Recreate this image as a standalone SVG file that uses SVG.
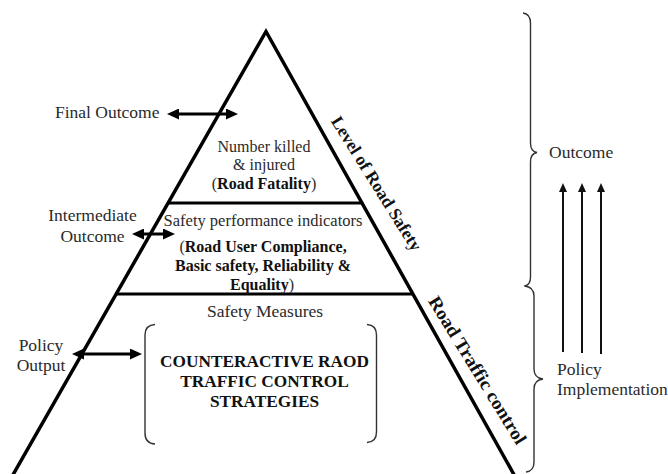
<svg xmlns="http://www.w3.org/2000/svg" width="668" height="474" viewBox="0 0 668 474">
  <defs>
    <style>
      .t { font-family: "Liberation Serif", "Times New Roman", serif; fill: #2a2a2a; }
      .b { font-weight: bold; fill: #111; }
      .c { text-anchor: middle; }
      .edge { fill: none; stroke: #000; stroke-width: 3.5; stroke-linejoin: miter; }
      .tier { fill: none; stroke: #000; stroke-width: 3; }
      .brace { fill: none; stroke: #333; stroke-width: 1.4; }
      .dbl { fill: none; stroke: #000; stroke-width: 3; marker-start: url(#head); marker-end: url(#head); }
      .up { fill: none; stroke: #111; stroke-width: 2; marker-end: url(#smallhead); }
    </style>
    <marker id="head" markerUnits="userSpaceOnUse" markerWidth="12" markerHeight="11" refX="4" refY="5.5" orient="auto-start-reverse">
      <path d="M0,0 L12,5.5 L0,11 z" fill="#000"/>
    </marker>
    <marker id="smallhead" markerUnits="userSpaceOnUse" markerWidth="9" markerHeight="8" refX="4" refY="4" orient="auto">
      <path d="M0,0 L9,4 L0,8 z" fill="#111"/>
    </marker>
  </defs>

  <g id="pyramid">
    <path class="edge" d="M10,480 L266,31.5 L517,480"/>
    <line class="tier" x1="168" y1="203" x2="362" y2="203"/>
    <line class="tier" x1="116" y1="294" x2="413" y2="294"/>
  </g>

  <g id="tier-final">
    <text class="t c" x="264" y="152" font-size="16">Number killed</text>
    <text class="t c" x="264" y="170" font-size="16">&amp; injured</text>
    <text class="t c" x="264" y="188.5" font-size="16">(<tspan class="b">Road Fatality</tspan>)</text>
  </g>

  <g id="tier-intermediate">
    <text class="t c" x="263" y="226" font-size="16.5">Safety performance indicators</text>
    <text class="t c" x="263" y="251.5" font-size="16">(<tspan class="b">Road User Compliance,</tspan></text>
    <text class="t b c" x="263" y="271" font-size="16">Basic safety, Reliability &amp;</text>
    <text class="t c" x="262" y="289.5" font-size="16"><tspan class="b">Equality</tspan>)</text>
  </g>

  <g id="tier-policy">
    <text class="t c" x="265" y="316.5" font-size="17.5">Safety Measures</text>
    <path class="brace" d="M155,324.5 Q145,325 145,335 L145,433 Q145,443.5 155,444"/>
    <path class="brace" d="M367,324.5 Q376.5,325 376.5,335 L376.5,432 Q376.5,442 367,442.5"/>
    <text class="t b c" x="264.5" y="367" font-size="17.3">COUNTERACTIVE RAOD</text>
    <text class="t b c" x="264.5" y="387" font-size="17.3">TRAFFIC CONTROL</text>
    <text class="t b c" x="264.5" y="407" font-size="17.3">STRATEGIES</text>
  </g>

  <g id="label-final-outcome">
    <text class="t" x="55" y="118" font-size="17.5">Final Outcome</text>
  </g>

  <g id="label-intermediate-outcome">
    <text class="t c" x="92.5" y="221" font-size="17.5">Intermediate</text>
    <text class="t c" x="92.5" y="241.5" font-size="17.5">Outcome</text>
  </g>

  <g id="label-policy-output">
    <text class="t c" x="41" y="350.5" font-size="17.5">Policy</text>
    <text class="t c" x="41" y="370.5" font-size="17.5">Output</text>
  </g>

  <g id="side-labels">
    <text class="t b" font-size="17.5" textLength="155" lengthAdjust="spacingAndGlyphs" transform="translate(330.5,121) rotate(58)">Level of Road Safety</text>
    <text class="t b" font-size="18.5" textLength="170" lengthAdjust="spacingAndGlyphs" transform="translate(427.7,301) rotate(58.4)">Road Traffic control</text>
  </g>

  <g id="braces">
    <path class="brace" d="M523,13 Q530.5,14 530.5,23 L530.5,143 Q530.5,151.5 537,152.5 Q530.5,153.5 530.5,162 L530.5,277 Q530.5,285 524.5,286"/>
    <path class="brace" d="M524.5,286 Q534,287 534,296 L534,369 Q534,378 543,379 Q534,380 534,389 L534,462 Q534,471 526,472"/>
  </g>

  <g id="label-outcome">
    <text class="t" x="549" y="158" font-size="17.5">Outcome</text>
  </g>

  <g id="label-policy-implementation">
    <text class="t" x="557" y="375" font-size="17.5">Policy</text>
    <text class="t" x="557" y="395" font-size="17.5">Implementation</text>
  </g>

  <g id="connectors">
    <line class="dbl" x1="175" y1="114" x2="230" y2="114"/>
    <line class="dbl" x1="140" y1="234" x2="167" y2="234"/>
    <line class="dbl" x1="80" y1="354" x2="134" y2="354"/>
    <line class="up" x1="563" y1="352" x2="563" y2="188"/>
    <line class="up" x1="582" y1="353" x2="582" y2="188"/>
    <line class="up" x1="601" y1="354" x2="601" y2="188"/>
  </g>
</svg>
